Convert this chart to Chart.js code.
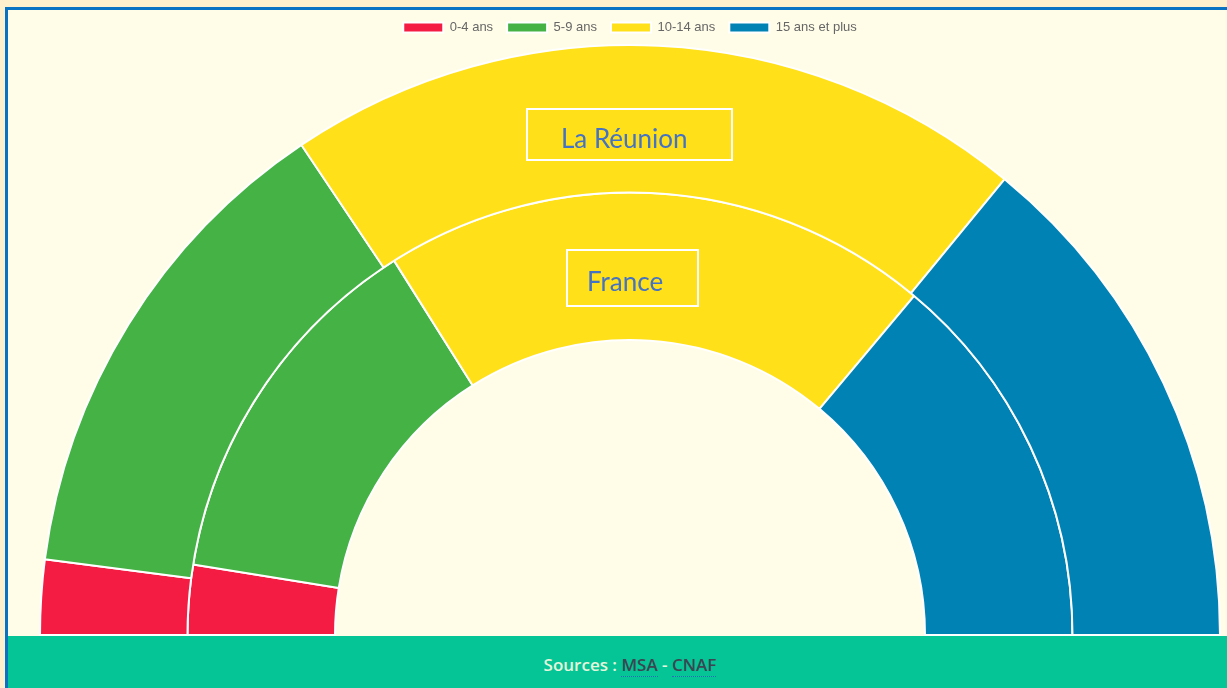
<!DOCTYPE html>
<html>
<head>
<meta charset="utf-8">
<script src="https://cdn.jsdelivr.net/npm/chart.js@4.4.1/dist/chart.umd.min.js"></script>
<style>
  html, body { margin: 0; padding: 0; width: 1227px; height: 688px; overflow: hidden; background: #fff0cd; }
  #frame { position: absolute; left: 5px; top: 7px; width: 1300px; height: 700px; border-left: 3px solid #0a72c2; border-top: 3px solid #0a72c2; background: #fffde8; }
  #wrap { position: absolute; left: 8px; top: 7px; width: 1244px; height: 629px; }
  .lbl { position: absolute; border: 2px solid #ffffff; box-sizing: border-box; color: #4472c4; font-family: Lato, "Open Sans", sans-serif; font-size: 26px; line-height: 1; }
  .lbl span { position: absolute; white-space: nowrap; }
  #footer { position: absolute; left: 8px; top: 636px; width: 1244px; height: 52px; background: #05c495; text-align: center; font-family: "Open Sans", sans-serif; font-size: 17px; font-weight: 600; line-height: 57px; color: #e6f6dc; }
  #footer a { color: #3b4652; text-decoration: none; border-bottom: 1px dotted #2a6fb5; padding-bottom: 0px; }
</style>
</head>
<body>
<div id="frame"></div>
<div id="wrap"><canvas id="c"></canvas></div>
<div class="lbl" style="left:526px;top:108px;width:207px;height:53px;"><span style="left:33px;top:15px;">La Réunion</span></div>
<div class="lbl" style="left:566px;top:249px;width:133px;height:58px;"><span style="left:19px;top:17px;">France</span></div>
<div id="footer">Sources : <a>MSA</a> - <a>CNAF</a></div>
<script>
const categories = ["0-4 ans", "5-9 ans", "10-14 ans", "15 ans et plus"];
const reunion = [4.1, 27.1, 40.7, 28.1];
const france = [5.1, 27.0, 40.1, 27.8];
const seriesNames = ["La Réunion", "France"];
const colors = ["#f51c43", "#44b244", "#ffe019", "#0082b5"];

new Chart(document.getElementById('c'), {
  type: 'doughnut',
  data: {
    labels: categories,
    datasets: [
      { label: seriesNames[0], data: reunion, backgroundColor: colors, borderColor: '#ffffff', borderWidth: 2 },
      { label: seriesNames[1], data: france, backgroundColor: colors, borderColor: '#ffffff', borderWidth: 2 }
    ]
  },
  options: {
    responsive: true,
    maintainAspectRatio: false,
    animation: false,
    rotation: -90,
    circumference: 180,
    cutout: '50%',
    radius: 590,
    layout: { padding: { bottom: 0 } },
    plugins: {
      legend: {
        position: 'top',
        labels: { boxWidth: 40, boxHeight: 10, padding: 14, color: '#666', font: { family: '"Liberation Sans", Arial, sans-serif', size: 13 } }
      },
      tooltip: { enabled: true }
    }
  }
});
</script>
</body>
</html>
